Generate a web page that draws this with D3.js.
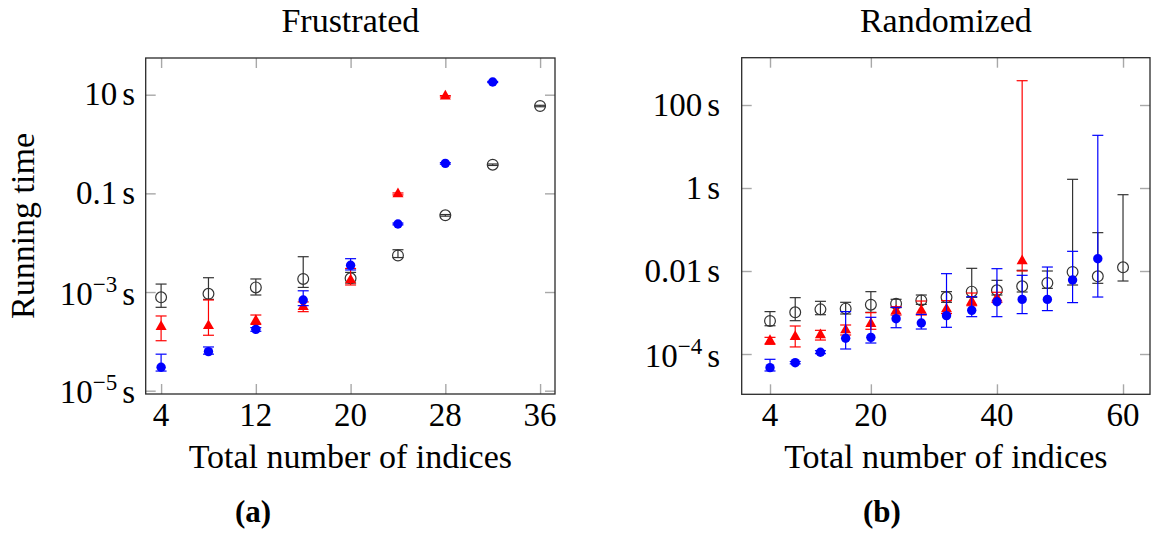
<!DOCTYPE html>
<html><head><meta charset="utf-8">
<script src="https://cdn.jsdelivr.net/npm/d3@7"></script>
<style>
body{margin:0;background:#fff}
</style>
</head><body>
<svg id="c" width="1151" height="533" font-family="'Liberation Serif', 'DejaVu Serif', serif"></svg>
<script>
// ---------- Data: (a) Frustrated ----------
const fruX = [4, 8, 12, 16, 20, 24, 28, 32, 36];
const fruBlackMean = [7.8e-4, 9.2e-4, 1.24e-3, 1.84e-3, 1.9e-3, 5.5e-3, 0.0359, 0.381, 5.9];
const fruBlackLo   = [4.9e-4, 7.1e-4, 8.7e-4, 1.24e-3, 1.52e-3, 5.0e-3, 0.0345, 0.368, 5.7];
const fruBlackHi   = [1.45e-3, 1.95e-3, 1.84e-3, 5.2e-3, 2.5e-3, 7.2e-3, 0.0372, 0.394, 6.1];

const fruRedX    = [4, 8, 12, 16, 20, 24, 28];
const fruRedMean = [1.98e-4, 2.07e-4, 2.62e-4, 5.0e-4, 1.75e-3, 0.097, 9.3];
const fruRedLo   = [1.03e-4, 1.33e-4, 2.21e-4, 4.0e-4, 1.39e-3, 0.093, 9.0];
const fruRedHi   = [3.27e-4, 6.9e-4, 3.42e-4, 6.3e-4, 3.0e-3, 0.102, 9.6];

const fruBlueX    = [4, 8, 12, 16, 20, 24, 28, 32];
const fruBlueMean = [2.98e-5, 6.2e-5, 1.75e-4, 6.9e-4, 3.48e-3, 0.0239, 0.406, 18.1];
const fruBlueLo   = [2.5e-5, 5.5e-5, 1.6e-4, 5.3e-4, 2.8e-3, 0.023, 0.39, 17.6];
const fruBlueHi   = [5.5e-5, 7.7e-5, 1.9e-4, 1.06e-3, 4.74e-3, 0.025, 0.42, 18.6];

const fruXTicks = [4, 12, 20, 28, 36];
const fruYTicks = [1e-5, 1e-3, 0.1, 10];

// ---------- Data: (b) Randomized ----------
const ranX = [4, 8, 12, 16, 20, 24, 28, 32, 36, 40, 44, 48, 52, 56, 60];
const ranBlackMean = [6.24e-4, 1.01e-3, 1.19e-3, 1.24e-3, 1.54e-3, 1.63e-3, 1.96e-3, 2.32e-3, 3.18e-3, 3.42e-3, 4.28e-3, 5.14e-3, 9.46e-3, 7.43e-3, 0.01225];
const ranBlackLo   = [4.8e-4, 6.35e-4, 8.85e-4, 9.2e-4, 1.01e-3, 1.31e-3, 1.57e-3, 1.76e-3, 2.32e-3, 2.64e-3, 3.12e-3, 3.82e-3, 4.6e-3, 5.05e-3, 5.74e-3];
const ranBlackHi   = [1.05e-3, 2.28e-3, 1.86e-3, 1.76e-3, 3.18e-3, 2.08e-3, 2.64e-3, 3.18e-3, 0.0116, 5.96e-3, 0.0104, 0.0100, 1.62, 0.084, 0.69];

const ranRedX    = [4, 8, 12, 16, 20, 24, 28, 32, 36, 40, 44];
const ranRedMean = [2.09e-4, 2.61e-4, 2.87e-4, 3.78e-4, 5.37e-4, 1.09e-3, 1.11e-3, 1.21e-3, 1.82e-3, 2.23e-3, 0.0174];
const ranRedLo   = [1.71e-4, 1.48e-4, 2.17e-4, 2.87e-4, 3.94e-4, 8.7e-4, 8.7e-4, 9.4e-4, 1.46e-3, 1.76e-3, 0.0100];
const ranRedHi   = [2.52e-4, 4.73e-4, 3.72e-4, 5.0e-4, 9.9e-4, 1.38e-3, 1.89e-3, 1.93e-3, 2.95e-3, 3.07e-3, 385];

const ranBlueX    = [4, 8, 12, 16, 20, 24, 28, 32, 36, 40, 44, 48, 52, 56];
const ranBlueMean = [4.69e-5, 6.18e-5, 1.10e-4, 2.39e-4, 2.52e-4, 7.1e-4, 5.58e-4, 8.4e-4, 1.13e-3, 1.82e-3, 2.07e-3, 2.07e-3, 6.07e-3, 0.0198];
const ranBlueLo   = [3.9e-5, 5.8e-5, 1.02e-4, 1.32e-4, 1.84e-4, 4.3e-4, 4.0e-4, 4.4e-4, 7.94e-4, 7.94e-4, 9.4e-4, 1.11e-3, 1.73e-3, 2.36e-3];
const ranBlueHi   = [7.45e-5, 6.6e-5, 1.2e-4, 1.05e-3, 7.66e-4, 1.33e-3, 9.0e-4, 8.63e-3, 2.4e-3, 0.01138, 7.87e-3, 0.01247, 0.0298, 18.6];

const ranXTicks = [4, 20, 40, 60];
const ranYTicks = [1e-4, 0.01, 1, 100];

const titles = ["Frustrated", "Randomized"];
const captions = ["(a)", "(b)"];
const xLabel = "Total number of indices";
const yLabel = "Running time";

// ---------- Drawing ----------
const FONT = "'Liberation Serif', 'DejaVu Serif', serif";
const svg = d3.select("#c");
const COLORS = {black: "#333", red: "#ff0000", blue: "#0000ff"};

function yTickText(v) {
  const e = Math.round(Math.log10(v));
  if (v >= 0.01 && v <= 1000) {
    let s = v >= 1 ? String(v) : v.toFixed(-e);
    return {base: s, sup: null};
  }
  return {base: "10", sup: "\u2212" + Math.abs(e)};
}

function txt(sel) {
  return sel.append("text").attr("font-family", FONT).attr("fill", "#000");
}

function panel(cfg) {
  const g = svg.append("g");
  const x = d3.scaleLinear().domain(cfg.xDomain).range([cfg.left, cfg.right]);
  const y = d3.scaleLog().domain(cfg.yDomain).range([cfg.bottom, cfg.top]);
  const tickCol = "#a8a8a8";

  const axB = g.append("g").attr("transform", `translate(0,${cfg.bottom})`)
    .call(d3.axisBottom(x).tickValues(cfg.xTicks).tickSize(-10).tickFormat(""));
  const axT = g.append("g").attr("transform", `translate(0,${cfg.top})`)
    .call(d3.axisTop(x).tickValues(cfg.xTicks).tickSize(-10).tickFormat(""));
  const axL = g.append("g").attr("transform", `translate(${cfg.left},0)`)
    .call(d3.axisLeft(y).tickValues(cfg.yTicks).tickSize(-10).tickFormat(""));
  const axR = g.append("g").attr("transform", `translate(${cfg.right},0)`)
    .call(d3.axisRight(y).tickValues(cfg.yTicks).tickSize(-10).tickFormat(""));
  [axB, axT, axL, axR].forEach(a => {
    a.select(".domain").remove();
    a.selectAll(".tick line").attr("stroke", tickCol).attr("stroke-width", 1.4);
  });

  cfg.xTicks.forEach(v => {
    txt(g).attr("x", x(v)).attr("y", cfg.bottom + 32)
      .attr("text-anchor", "middle").attr("font-size", 33).text(v);
  });

  cfg.yTicks.forEach(v => {
    const t = yTickText(v);
    const tx = txt(g).attr("x", cfg.labelRight)
      .attr("y", y(v) + (t.sup ? 12.5 : 10.5))
      .attr("text-anchor", "end").attr("font-size", 33);
    tx.append("tspan").text(t.base);
    if (t.sup) {
      tx.append("tspan").attr("font-size", 23).attr("dy", -13).text(t.sup);
      tx.append("tspan").attr("dy", 13).attr("dx", 5).text("s");
    } else {
      tx.append("tspan").attr("dx", 5).text("s");
    }
  });

  g.append("rect").attr("x", cfg.left).attr("y", cfg.top)
    .attr("width", cfg.right - cfg.left).attr("height", cfg.bottom - cfg.top)
    .attr("fill", "none").attr("stroke", "#2a2a2a").attr("stroke-width", 1.3);

  cfg.series.forEach(s => {
    const col = COLORS[s.color];
    const sg = g.append("g");
    s.x.forEach((xv, i) => {
      const cx = x(xv), yl = y(s.lo[i]), yh = y(s.hi[i]);
      sg.append("line").attr("x1", cx).attr("x2", cx).attr("y1", yl).attr("y2", yh)
        .attr("stroke", col).attr("stroke-width", 1.2);
      [yl, yh].forEach(yy => sg.append("line").attr("x1", cx - 5.5).attr("x2", cx + 5.5)
        .attr("y1", yy).attr("y2", yy).attr("stroke", col).attr("stroke-width", 1.2));
    });
    s.x.forEach((xv, i) => {
      const cx = x(xv), cy = y(s.mean[i]);
      if (s.marker === "open") {
        sg.append("circle").attr("cx", cx).attr("cy", cy).attr("r", 5.4)
          .attr("fill", "none").attr("stroke", col).attr("stroke-width", 1.2);
      } else if (s.marker === "dot") {
        sg.append("circle").attr("cx", cx).attr("cy", cy).attr("r", 4.7).attr("fill", col);
      } else {
        const R = 6.4, h = R * Math.sqrt(3) / 2;
        sg.append("path").attr("d", `M${cx},${cy - R}L${cx + h},${cy + R / 2}L${cx - h},${cy + R / 2}Z`)
          .attr("fill", col);
      }
    });
  });

  const mid = (cfg.left + cfg.right) / 2;
  txt(g).attr("x", mid).attr("y", 32).attr("text-anchor", "middle")
    .attr("font-size", 34).text(cfg.title);
  txt(g).attr("x", mid).attr("y", 468).attr("text-anchor", "middle")
    .attr("font-size", 34).text(xLabel);
  txt(g).attr("x", cfg.captionX).attr("y", 522).attr("text-anchor", "middle")
    .attr("font-size", 31).attr("font-weight", "bold").text(cfg.caption);
  if (cfg.yLabel) {
    txt(g).attr("transform", `translate(34,${(cfg.top + cfg.bottom) / 2}) rotate(-90)`)
      .attr("text-anchor", "middle").attr("font-size", 34).text(cfg.yLabel);
  }
}

panel({
  left: 145.7, right: 555, top: 58, bottom: 394,
  xDomain: [2.7, 37.26], yDomain: [Math.pow(10, -5.067), Math.pow(10, 1.744)],
  xTicks: fruXTicks, yTicks: fruYTicks, labelRight: 135,
  title: titles[0], caption: captions[0], captionX: 253, yLabel: yLabel,
  series: [
    {color: "black", marker: "open", x: fruX, mean: fruBlackMean, lo: fruBlackLo, hi: fruBlackHi},
    {color: "red", marker: "tri", x: fruRedX, mean: fruRedMean, lo: fruRedLo, hi: fruRedHi},
    {color: "blue", marker: "dot", x: fruBlueX, mean: fruBlueMean, lo: fruBlueLo, hi: fruBlueHi}
  ]
});

panel({
  left: 741.7, right: 1150, top: 57.7, bottom: 394.3,
  xDomain: [-0.49, 64.28], yDomain: [Math.pow(10, -4.971), Math.pow(10, 3.14)],
  xTicks: ranXTicks, yTicks: ranYTicks, labelRight: 720,
  title: titles[1], caption: captions[1], captionX: 882, yLabel: null,
  series: [
    {color: "black", marker: "open", x: ranX, mean: ranBlackMean, lo: ranBlackLo, hi: ranBlackHi},
    {color: "red", marker: "tri", x: ranRedX, mean: ranRedMean, lo: ranRedLo, hi: ranRedHi},
    {color: "blue", marker: "dot", x: ranBlueX, mean: ranBlueMean, lo: ranBlueLo, hi: ranBlueHi}
  ]
});
</script>
</body></html>
